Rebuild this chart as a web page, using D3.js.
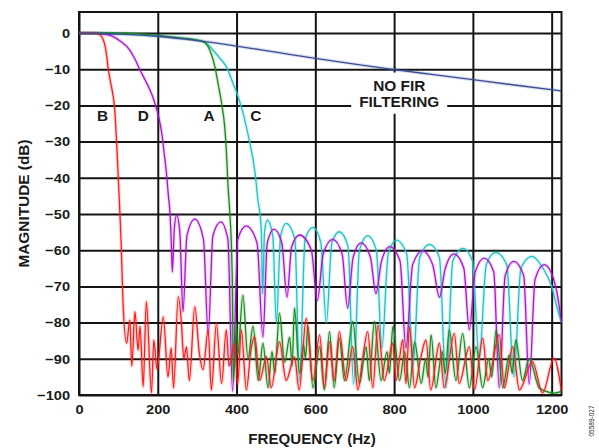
<!DOCTYPE html>
<html>
<head>
<meta charset="utf-8">
<script src="https://cdn.jsdelivr.net/npm/d3@7"></script>
<style>
  body { margin: 0; background: #fff; }
  text { font-family: "Liberation Sans", Arial, sans-serif; font-weight: bold; fill: #1a1a1a; }
</style>
</head>
<body>
<svg id="chart" width="599" height="448"></svg>
<script>
// axis ticks
const freqTicks = [0, 200, 400, 600, 800, 1000, 1200];
const dbTicks = [0, -10, -20, -30, -40, -50, -60, -70, -80, -90, -100];

// [frequency Hz, magnitude dB]
const noFir = [[0, 0], [100, -0.3], [200, -0.9], [300, -2.1], [400, -3.6], [500, -5.3], [600, -7], [700, -8.6],
  [800, -10.1], [900, -11.5], [1000, -12.9], [1100, -14.3], [1225, -16]];

const curveB = [[0, 0], [40, 0], [50, -0.3], [57, -0.9], [62, -2], [67, -4], [71, -7], [74, -9.7], [80, -13.5],
  [86, -17], [90, -20.3], [95, -29], [100, -40.6], [104, -50], [107, -58], [109, -65], [111, -72], [112, -75],
  [121, -85.7], [129, -79.3], [134, -92], [142, -77], [150, -87.6], [155, -81], [163, -97.7], [171, -74.2],
  [184, -99.4], [190, -84.8], [198, -93], [214, -78.4], [226, -95], [234, -87], [240, -98], [252, -72.8],
  [260, -80], [266, -90], [273, -86.7], [280, -96], [294, -75.6], [305, -88], [315, -93], [328, -82],
  [336, -98.6], [349, -80.2], [362, -96.8], [374, -82], [381, -92], [395, -85.7], [403, -97], [412, -82],
  [425, -98.6], [436, -88], [446, -83.9], [459, -95.9], [476, -89.4], [488, -98], [509, -85.3], [526, -96],
  [547, -89.5], [559, -98.6], [577, -78.8], [594, -96], [611, -83.4], [623, -98], [636, -85.3], [648, -96],
  [661, -82.5], [678, -96], [695, -86.7], [708, -98.6], [720, -90], [733, -82.5], [746, -98], [759, -80.7],
  [775, -96], [797, -85.7], [805, -96], [822, -84.8], [830, -96.8], [839, -81.1], [852, -98], [867, -90],
  [881, -84.8], [893, -98.6], [915, -85.7], [927, -98], [953, -83], [965, -96.8], [991, -86.7], [1004, -98.6],
  [1025, -84.3], [1038, -96], [1067, -83.4], [1080, -98], [1101, -86.7], [1118, -98.6], [1151, -90.8],
  [1177, -99.4], [1206, -89.9], [1225, -99]];

const curveD = [[0, 0], [45, 0], [65, -0.3], [87, -1], [108, -2.5], [129, -4.7], [142, -7.2], [155, -10.2],
  [168, -13], [180, -15.7], [190, -18.5], [197, -21], [204, -24], [210, -27.6], [216, -33], [222, -38.7],
  [227, -45], [231, -49.7], [234, -57], [237, -66],
  [242, -54], [248, -50.3], [256, -55], [264, -77],
  [274, -56], [294, -51.4], [316, -57], [328, -83],
  [340, -56], [360, -52.2], [378, -57], [390, -99],
  [403, -57], [425, -53.3], [452, -58], [467, -84],
  [478, -58], [495, -54.2], [515, -58], [528, -73],
  [540, -59], [560, -55.8], [590, -60], [605, -74],
  [620, -61], [644, -57], [668, -61], [682, -76],
  [696, -62], [716, -58], [740, -62], [754, -72],
  [768, -63], [789, -59], [815, -63], [830, -87],
  [847, -64], [872, -60.2], [898, -64], [915, -73],
  [930, -65], [952, -61], [977, -65], [991, -82],
  [1006, -66], [1029, -62.2], [1053, -66], [1067, -98],
  [1082, -67], [1104, -63.1], [1129, -67], [1143, -97],
  [1158, -68], [1181, -64], [1200, -66.5], [1214, -72], [1225, -80]];

const curveA = [[0, 0], [80, 0], [160, -0.3], [211, -0.8], [260, -1.4], [290, -1.8], [315, -2.4], [332, -4.7],
  [345, -9.3], [353, -13.9], [362, -19.4], [370, -26], [374, -32.3], [378, -41.5], [383, -49.8], [386, -56],
  [388, -62.7], [390, -75], [391, -90], [392, -96],
  [400, -80.2], [403, -89], [416, -72.4], [429, -90], [442, -81], [455, -96], [467, -85.7], [480, -98],
  [490, -88], [497, -94], [509, -77.4], [522, -91], [535, -84], [541, -92], [547, -76], [560, -94],
  [570, -86], [575, -90], [581, -81], [594, -98], [611, -86.7], [623, -98.6], [636, -82.5], [648, -98],
  [661, -84.3], [674, -96], [695, -79.7], [712, -96.8], [729, -86.7], [737, -96], [750, -79.7], [767, -96],
  [782, -88], [788, -94], [797, -81], [814, -96], [827, -88], [839, -98], [852, -85.3], [869, -96.8],
  [880, -90], [886, -95], [894, -83.4], [906, -98], [922, -88], [930, -94], [940, -82], [957, -96],
  [974, -83], [991, -98], [1008, -86.7], [1025, -98], [1040, -90], [1048, -95], [1059, -82], [1076, -98],
  [1092, -89], [1100, -94], [1109, -84.8], [1126, -96], [1143, -90], [1168, -98], [1186, -99],
  [1206, -99.5], [1225, -99]];

const curveC = [[0, 0], [100, -0.2], [200, -0.8], [300, -2], [324, -2.8], [340, -4.7], [358, -7], [374, -9.3],
  [391, -13.9], [404, -17.6], [415, -21.5], [425, -26], [434, -30.5], [442, -35], [449, -40.5], [454, -46],
  [460, -50.5], [463, -55], [466, -72],
  [471, -55], [478, -51.7], [492, -56], [501, -80],
  [512, -56], [526, -52.6], [548, -57], [560, -96],
  [574, -57], [594, -53.7], [614, -58], [628, -80],
  [642, -58], [661, -54.9], [683, -59], [697, -97],
  [712, -60], [733, -56], [755, -60], [769, -87],
  [785, -61], [806, -57.2], [832, -61], [848, -92],
  [865, -62], [890, -58.4], [915, -62], [932, -98],
  [949, -63], [975, -59.5], [999, -63], [1016, -90],
  [1034, -64], [1058, -60.6], [1086, -64], [1104, -95],
  [1122, -65], [1150, -61.7], [1178, -65], [1200, -70], [1214, -76], [1225, -80]];

const curveLabels = [["B", 60], ["D", 163], ["A", 330], ["C", 449]];

const svg = d3.select('#chart');
const x = d3.scaleLinear().domain([0, 1225]).range([79, 561.5]);
const y = d3.scaleLinear().domain([-100, 5.8]).range([395, 12]);
const grid = '#141414';

svg.append('defs').append('clipPath').attr('id', 'plot')
  .append('rect')
  .attr('x', x(0)).attr('y', y(5.8))
  .attr('width', x(1225) - x(0)).attr('height', y(-100) - y(5.8));

// vertical grid + frequency labels
svg.append('g')
  .attr('transform', `translate(0,${y(-100)})`)
  .call(d3.axisBottom(x).tickValues(freqTicks).tickFormat(d3.format('d'))
    .tickSizeInner(-(y(-100) - y(5.8))).tickSizeOuter(0))
  .call(g => g.select('.domain').remove())
  .call(g => g.selectAll('.tick line').attr('stroke', grid).attr('stroke-width', 2))
  .call(g => g.selectAll('.tick text')
    .attr('y', 19).attr('dy', 0)
    .attr('transform', 'scale(1.08,1)')
    .attr('fill', '#1a1a1a')
    .style('font-size', '13.5px').style('font-family', '"Liberation Sans", Arial, sans-serif'));

// horizontal grid + magnitude labels
svg.append('g')
  .attr('transform', `translate(${x(0)},0)`)
  .call(d3.axisLeft(y).tickValues(dbTicks).tickSizeInner(-(x(1225) - x(0))).tickSizeOuter(0))
  .call(g => g.select('.domain').remove())
  .call(g => g.selectAll('.tick line').attr('stroke', grid).attr('stroke-width', 2))
  .call(g => g.selectAll('.tick text')
    .attr('x', -8.3)
    .attr('transform', 'scale(1.08,1)')
    .attr('fill', '#1a1a1a')
    .style('font-size', '13.5px').style('font-family', '"Liberation Sans", Arial, sans-serif'));

svg.append('rect')
  .attr('x', x(0)).attr('y', y(5.8))
  .attr('width', x(1225) - x(0)).attr('height', y(-100) - y(5.8))
  .attr('fill', 'none').attr('stroke', grid).attr('stroke-width', 2);

// label box for the unfiltered response
const note = svg.append('g');
note.append('text')
  .attr('transform', `translate(${x(813)},${y(-16)}) scale(1.1,1)`)
  .attr('text-anchor', 'middle').style('font-size', '14px')
  .text('NO FIR');
note.append('text')
  .attr('transform', `translate(${x(813)},${y(-16) + 16}) scale(1.1,1)`)
  .attr('text-anchor', 'middle').style('font-size', '14px')
  .text('FILTERING');
const bb = note.node().getBBox();
note.insert('rect', 'text')
  .attr('x', bb.x - 8).attr('y', bb.y - 6)
  .attr('width', bb.width + 16).attr('height', bb.height + 10)
  .attr('fill', '#fff');

const line = d3.line()
  .x(d => x(d[0]))
  .y(d => y(d[1]))
  .curve(d3.curveMonotoneX);

const series = [
  { pts: curveC, color: '#1fc3c6' },
  { pts: curveD, color: '#a815cf' },
  { pts: curveA, color: '#198a1c' },
  { pts: curveB, color: '#ff1c1c' },
  { pts: noFir, color: '#3b4f98' }
];

const plot = svg.append('g').attr('clip-path', 'url(#plot)');

// faint halo under each trace, like the printed original
plot.selectAll('.halo')
  .data(series)
  .join('path')
  .attr('class', 'halo')
  .attr('d', d => line(d.pts))
  .attr('fill', 'none')
  .attr('stroke', d => d.color)
  .attr('stroke-width', 3.5)
  .attr('stroke-opacity', 0.18);

plot.selectAll('.trace')
  .data(series)
  .join('path')
  .attr('class', 'trace')
  .attr('d', d => line(d.pts))
  .attr('fill', 'none')
  .attr('stroke', d => d.color)
  .attr('stroke-width', 1.3)
  .attr('stroke-linejoin', 'round');

svg.selectAll('.curve-label')
  .data(curveLabels)
  .join('text')
  .attr('class', 'curve-label')
  .attr('transform', d => `translate(${x(d[1])},${y(-24.2)}) scale(1.1,1)`)
  .attr('text-anchor', 'middle')
  .style('font-size', '14px')
  .text(d => d[0]);

// axis titles
svg.append('text')
  .attr('transform', 'translate(312,444) scale(1.08,1)')
  .attr('text-anchor', 'middle')
  .style('font-size', '14px')
  .text('FREQUENCY (Hz)');

svg.append('text')
  .attr('transform', 'translate(28.5,203.5) rotate(-90) scale(1.1,1)')
  .attr('text-anchor', 'middle')
  .style('font-size', '14px')
  .text('MAGNITUDE (dB)');

svg.append('text')
  .attr('transform', 'translate(594,421) rotate(-90)')
  .attr('text-anchor', 'middle')
  .style('font-size', '6.5px').style('font-weight', 'normal')
  .attr('fill', '#777')
  .text('05589-027');
</script>
</body>
</html>
